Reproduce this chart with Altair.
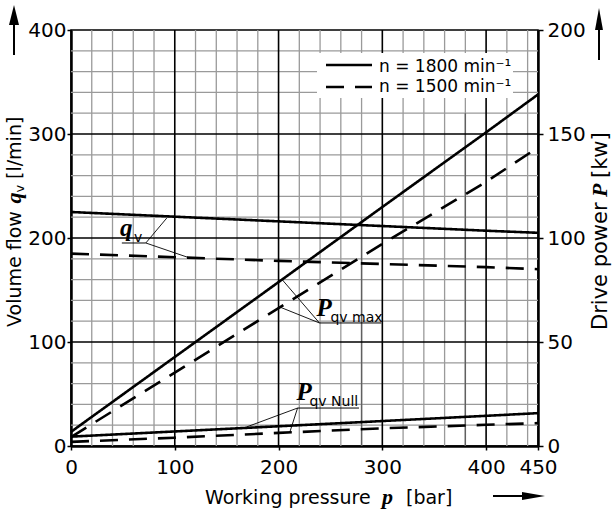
import altair as alt
import pandas as pd

# ---------------- data ----------------
pressure = [0, 100, 200, 300, 400, 450]
q_1800 = [225, 220.5, 216, 211.5, 207, 205]
q_1500 = [185, 181.5, 178, 175, 172, 170]
p_max_1800 = [6.8, 42.8, 78.8, 114.9, 150.8, 169]
p_max_1500 = [4.3, 35.3, 66.3, 97.2, 127, 143.5]
p_null_1800 = [4.5, 7.0, 9.5, 12.0, 14.5, 15.8]
p_null_1500 = [2.0, 4.0, 6.3, 8.5, 10.2, 11.0]

x_minor = [20, 40, 60, 80, 120, 140, 160, 180, 220, 240, 260, 280, 320, 340, 360, 380, 420, 440]
y_minor = [20, 40, 60, 80, 120, 140, 160, 180, 220, 240, 260, 280, 320, 340, 360, 380]
x_major = [100, 200, 300, 400]
y_major = [100, 200, 300]
x_ticks = [0, 100, 200, 300, 400, 450]
y_ticks_q = [0, 100, 200, 300, 400]
y_ticks_p = [0, 50, 100, 150, 200]
# darker stretches of two grid lines seen in the reference
dark_x = [280, 380]
dark_top = [220, 320]

# annotation labels (in pressure / volume-flow units)
lab_main = ["q", "P", "P"]
lab_main_p = [47.1, 236.5, 217.3]
lab_main_v = [201.9, 125.0, 44.2]
lab_sub = ["v", "qv max", "qv Null"]
lab_sub_p = [60.6, 250.0, 229.8]
lab_sub_v = [196.2, 119.2, 38.5]
under_p1 = [49.0, 239.4, 218.3]
under_p2 = [72.1, 299.0, 277.5]
under_v = [195.2, 118.3, 36.5]
lead_p1 = [72.1, 72.1, 239.4, 239.4, 218.3, 218.3]
lead_v1 = [195.2, 195.2, 118.3, 118.3, 36.5, 36.5]
lead_p2 = [92.3, 114.4, 203.8, 201.0, 169.2, 210.6]
lead_v2 = [219.2, 180.8, 159.6, 133.7, 18.3, 12.5]

FONT = "DejaVu Sans"
SERIF = "Liberation Serif"
DASH = [18, 11]

xs = alt.Scale(domain=[0, 450], nice=False, zero=False)
yq = alt.Scale(domain=[0, 400], nice=False, zero=False)
yp = alt.Scale(domain=[0, 200], nice=False, zero=False)
dash_scale = alt.Scale(domain=["1800", "1500"], range=[[1, 0], DASH])

one = pd.DataFrame({"a": [0]})

x_axis = alt.Axis(values=x_ticks, title=None, grid=False, domainWidth=2.5, domainColor="black",
                  tickColor="black", tickWidth=1.5, tickSize=4, labelFont=FONT, labelFontSize=20,
                  labelColor="black", labelPadding=7, labelFlush=False, labelOverlap=False)
left_axis = alt.Axis(orient="left", values=y_ticks_q, title=None, grid=False, domainWidth=2.5,
                     domainColor="black", tickColor="black", tickWidth=1.5, tickSize=4,
                     labelFont=FONT, labelFontSize=20, labelColor="black", labelPadding=1,
                     labelFlush=False, labelOverlap=False)
right_axis = alt.Axis(orient="right", values=y_ticks_p, title=None, grid=False, domainWidth=2.5,
                      domainColor="black", tickColor="black", tickWidth=1.5, tickSize=5,
                      labelFont=FONT, labelFontSize=20, labelColor="black", labelPadding=4,
                      labelFlush=False, labelOverlap=False)


def X(f):
    return alt.X(f, scale=xs, axis=x_axis)


# ---------------- grid ----------------
vminor = alt.Chart(pd.DataFrame({"g": x_minor})).mark_rule(color="#9a9a9a", strokeWidth=1.3).encode(
    x=X("g:Q"))
hminor = alt.Chart(pd.DataFrame({"g": y_minor})).mark_rule(color="#9a9a9a", strokeWidth=1.3).encode(
    y=alt.Y("g:Q", scale=yq, axis=None))
vdark = alt.Chart(pd.DataFrame({"g": dark_x, "t": dark_top, "b": [0, 0]})).mark_rule(
    color="#606060", strokeWidth=1.4).encode(
    x=X("g:Q"), y=alt.Y("b:Q", scale=yq, axis=None), y2="t:Q")
vmajor = alt.Chart(pd.DataFrame({"g": x_major})).mark_rule(color="black", strokeWidth=1.6).encode(
    x=X("g:Q"))
hmajor = alt.Chart(pd.DataFrame({"g": y_major})).mark_rule(color="black", strokeWidth=1.6).encode(
    y=alt.Y("g:Q", scale=yq, axis=None))

legend_box = alt.Chart(one).mark_rect(fill="white").encode(
    x=alt.value(246), x2=alt.value(442), y=alt.value(23), y2=alt.value(68))

# ---------------- data lines ----------------
q_df = pd.DataFrame({
    "p": pressure * 2,
    "q": q_1800 + q_1500,
    "n": ["1800"] * len(pressure) + ["1500"] * len(pressure),
})
P_df = pd.DataFrame({
    "p": pressure * 4,
    "P": p_max_1800 + p_max_1500 + p_null_1800 + p_null_1500,
    "n": (["1800"] * 6 + ["1500"] * 6) * 2,
    "c": ["max"] * 12 + ["null"] * 12,
})

q_lines = alt.Chart(q_df).mark_line(color="black", strokeWidth=2.6).encode(
    x=X("p:Q"),
    y=alt.Y("q:Q", scale=yq, axis=left_axis),
    strokeDash=alt.StrokeDash("n:N", scale=dash_scale, legend=None),
)
P_lines = alt.Chart(P_df).mark_line(color="black", strokeWidth=2.6).encode(
    x=X("p:Q"),
    y=alt.Y("P:Q", scale=yp, axis=right_axis),
    strokeDash=alt.StrokeDash("n:N", scale=dash_scale, legend=None),
    detail="c:N",
)

# ---------------- annotations ----------------
lead = alt.Chart(pd.DataFrame({"p1": lead_p1, "v1": lead_v1, "p2": lead_p2, "v2": lead_v2})).mark_rule(
    color="black", strokeWidth=0.9).encode(
    x=X("p1:Q"), x2="p2:Q",
    y=alt.Y("v1:Q", scale=yq, axis=None), y2="v2:Q")
under = alt.Chart(pd.DataFrame({"p1": under_p1, "p2": under_p2, "v": under_v})).mark_rule(
    color="black", strokeWidth=1).encode(
    x=X("p1:Q"), x2="p2:Q",
    y=alt.Y("v:Q", scale=yq, axis=None))
main_lab = alt.Chart(pd.DataFrame({"t": lab_main, "p": lab_main_p, "v": lab_main_v})).mark_text(
    font=SERIF, fontSize=25, fontStyle="italic", fontWeight="bold", align="left",
    baseline="alphabetic", color="black").encode(
    x=X("p:Q"), y=alt.Y("v:Q", scale=yq, axis=None), text="t:N")
sub_lab = alt.Chart(pd.DataFrame({"t": lab_sub, "p": lab_sub_p, "v": lab_sub_v})).mark_text(
    font=FONT, fontSize=14, align="left", baseline="alphabetic", color="black").encode(
    x=X("p:Q"), y=alt.Y("v:Q", scale=yq, axis=None), text="t:N")


def txt(s, x, y, size, font=FONT, style="normal", weight="normal", angle=0):
    return alt.Chart(one).mark_text(
        text=s, font=font, fontSize=size, fontStyle=style, fontWeight=weight, angle=angle,
        align="left", baseline="alphabetic", color="black").encode(
        x=alt.value(x), y=alt.value(y))


# legend
leg_solid = alt.Chart(one).mark_rule(color="black", strokeWidth=2.6).encode(
    x=alt.value(255), x2=alt.value(301), y=alt.value(35))
leg_dash = alt.Chart(one).mark_rule(color="black", strokeWidth=2.6, strokeDash=DASH).encode(
    x=alt.value(255), x2=alt.value(301), y=alt.value(57))
leg_t1 = txt("n = 1800 min\u207b\u00b9", 308, 42, 17)
leg_t2 = txt("n = 1500 min\u207b\u00b9", 308, 62, 17)

# axis titles built from pieces
lt = [
    txt("Volume flow", -50, 297, 19, angle=270),
    txt("q", -50, 173.6, 22, font=SERIF, style="italic", weight="bold", angle=270),
    txt("v", -47, 162.6, 13, angle=270),
    txt("[l/min]", -50, 149, 19, angle=270),
]
rt = [
    txt("Drive power", 536, 300, 21, angle=270),
    txt("P", 536, 167, 22, font=SERIF, style="italic", weight="bold", angle=270),
    txt("[kw]", 536, 148, 21, angle=270),
]
bt = [
    txt("Working pressure", 134, 474, 19),
    txt("p", 311, 474, 22, font=SERIF, style="italic", weight="bold"),
    txt("[bar]", 335, 474, 19),
]

# arrows
arr_l = alt.Chart(one).mark_rule(color="black", strokeWidth=2).encode(
    x=alt.value(-57), y=alt.value(25), y2=alt.value(-8))
arr_l_h = alt.Chart(one).mark_point(shape="M0,-1L0.5,1L-0.5,1Z", size=400, filled=True,
                                     color="black", opacity=1, strokeWidth=0).encode(
    x=alt.value(-57), y=alt.value(-15))
arr_r = alt.Chart(one).mark_rule(color="black", strokeWidth=2).encode(
    x=alt.value(528), y=alt.value(30), y2=alt.value(-5))
arr_r_h = alt.Chart(one).mark_point(shape="M0,-1L0.36,1L-0.36,1Z", size=484, filled=True,
                                     color="black", opacity=1, strokeWidth=0).encode(
    x=alt.value(528), y=alt.value(-11))
arr_b = alt.Chart(one).mark_rule(color="black", strokeWidth=2).encode(
    x=alt.value(422), x2=alt.value(455), y=alt.value(466))
arr_b_h = alt.Chart(one).mark_point(shape="M1,0L-1,0.35L-1,-0.35Z", size=529, filled=True,
                                     color="black", opacity=1, strokeWidth=0).encode(
    x=alt.value(462.5), y=alt.value(466))

chart = alt.layer(
    vminor, hminor, vdark, vmajor, hmajor, legend_box,
    q_lines, P_lines,
    lead, under, main_lab, sub_lab,
    leg_solid, leg_dash, leg_t1, leg_t2,
    *lt, *rt, *bt,
    arr_l, arr_l_h, arr_r, arr_r_h, arr_b, arr_b_h,
).resolve_scale(y="independent").properties(
    width=467, height=416,
    autosize=alt.AutoSizeParams(type="none"),
    padding={"left": 71, "top": 30, "right": 75, "bottom": 67},
    background="white",
).configure_view(stroke="black", strokeWidth=1.5)

chart.save("out.html", embed_options={"renderer": "svg", "actions": False})
